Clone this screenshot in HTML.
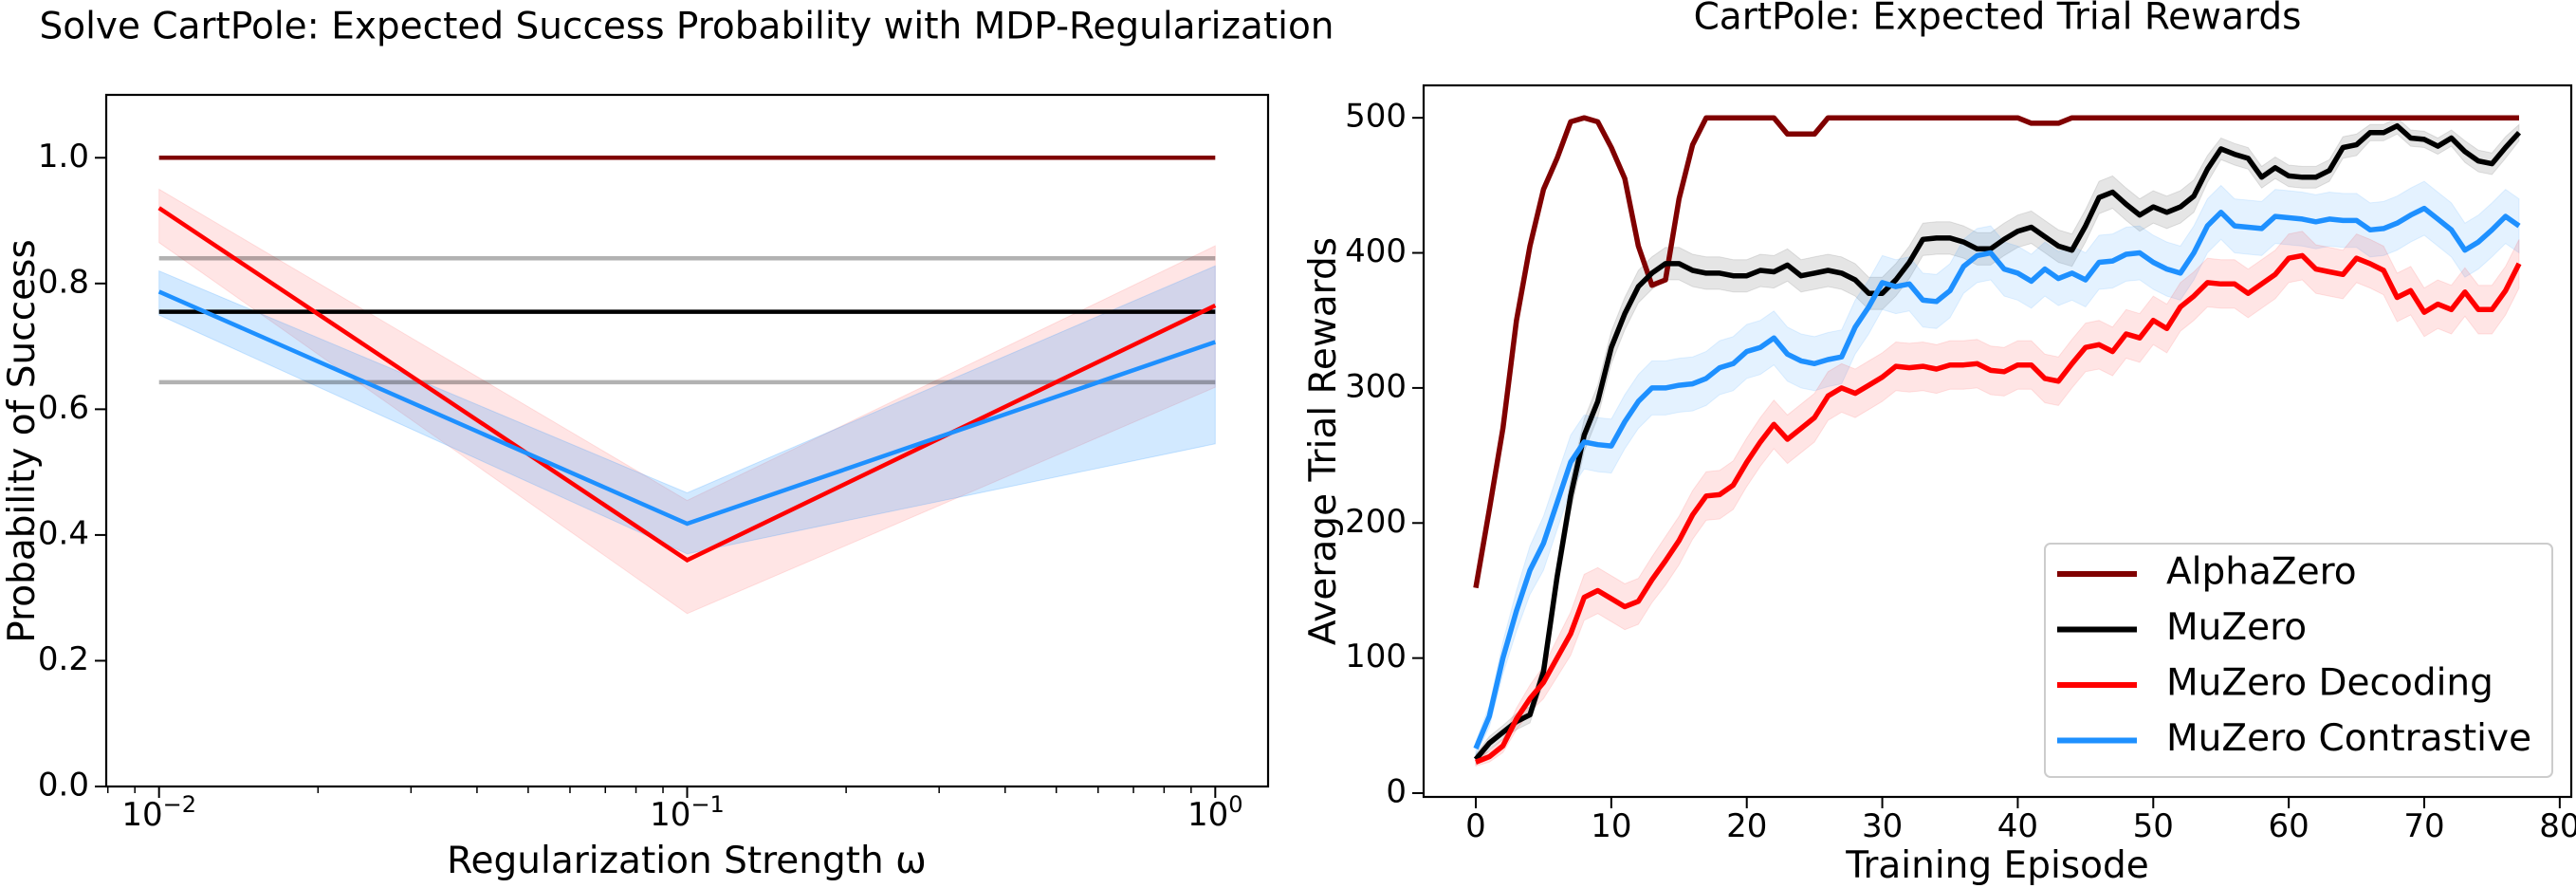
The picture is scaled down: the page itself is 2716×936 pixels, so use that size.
<!DOCTYPE html>
<html><head><meta charset="utf-8"><style>
body{margin:0;background:#fff}
svg{display:block;font-family:"DejaVu Sans","Liberation Sans",sans-serif}
</style></head><body>
<svg id="fig" width="2716" height="936" viewBox="0 0 2716 936" xmlns="http://www.w3.org/2000/svg">
<rect width="2716" height="936" fill="#fff"/>
<g id="left"></g>
<g id="right"></g>
</svg>
<script>
// ---- Left chart data ----
const lCats = [0.01, 0.1, 1];
const lAlpha = [1.0, 1.0, 1.0];
const lMuzero = [0.755, 0.755, 0.755];
const lMuzeroUpper = [0.84, 0.84, 0.84];
const lMuzeroLower = [0.643, 0.643, 0.643];
const lDecoding = [0.92, 0.36, 0.765];
const lDecodingUpper = [0.95, 0.455, 0.86];
const lDecodingLower = [0.865, 0.275, 0.635];
const lContrast = [0.787, 0.418, 0.707];
const lContrastUpper = [0.82, 0.467, 0.828];
const lContrastLower = [0.75, 0.37, 0.545];
const lYTicks = [0.0, 0.2, 0.4, 0.6, 0.8, 1.0];
const lXTickExps = [-2, -1, 0];

// ---- Right chart data ----
const rAlpha = [152,210,270,350,405,447,470,497,500,497,478,455,405,376,380,440,480,500,500,500,500,500,500,488,488,488,500,500,500,500,500,500,500,500,500,500,500,500,500,500,500,496,496,496,500,500,500,500,500,500,500,500,500,500,500,500,500,500,500,500,500,500,500,500,500,500,500,500,500,500,500,500,500,500,500,500,500,500];
const rMuzero = [25,37,45,53,58,90,160,220,265,290,330,355,375,385,392,392,387,385,385,383,383,387,386,391,383,385,387,385,380,370,370,380,393,410,411,411,408,403,403,410,416,419,412,405,402,420,441,445,436,428,434,430,434,442,462,477,473,470,456,463,457,456,456,461,478,480,489,489,494,485,484,479,485,475,468,466,478,489];
const rMuzeroErr = [4,5,5,6,6,8,10,12,12,12,12,12,12,12,12,12,12,12,12,12,12,12,12,12,12,12,12,12,12,12,12,12,12,12,12,12,12,12,12,12,12,12,12,12,12,12,12,12,12,12,12,12,12,12,10,8,8,8,8,8,8,8,8,8,8,8,6,6,6,6,6,6,6,8,8,8,8,6];
const rDecoding = [23,27,35,55,70,82,100,118,145,150,144,138,142,158,172,187,206,220,221,228,245,260,273,262,270,278,294,300,296,302,308,316,315,316,314,317,317,318,313,312,317,317,307,305,318,330,332,327,340,337,350,344,360,368,378,377,377,370,377,384,396,398,388,386,384,396,392,387,367,372,356,362,358,371,358,358,372,392];
const rDecodingErr = [3,4,5,8,10,12,14,16,17,17,17,17,17,17,18,18,18,18,18,18,18,18,18,18,18,18,18,18,18,18,18,18,18,18,18,18,18,18,18,18,18,18,18,18,18,18,18,18,18,18,18,18,18,18,18,18,18,18,18,18,18,18,18,18,18,18,18,18,18,18,18,18,18,18,18,18,18,18];
const rContrast = [33,57,100,135,165,185,215,245,260,258,257,275,290,300,300,302,303,307,315,318,327,330,337,325,320,318,321,323,345,360,378,375,377,365,364,372,390,398,400,388,385,379,388,381,385,380,393,394,399,400,393,388,385,400,420,430,420,419,418,427,426,425,423,425,424,424,417,418,422,428,433,425,417,402,408,417,427,420];
const rContrastErr = [5,8,12,15,18,20,20,20,20,20,20,20,20,20,20,20,20,20,20,20,20,20,20,20,20,20,20,20,20,20,20,20,20,20,20,20,20,20,20,20,20,20,20,20,20,20,20,20,20,20,20,20,20,20,20,20,20,20,20,20,20,20,20,20,20,20,20,20,20,20,20,20,20,20,20,20,20,20];
const rYTicks = [0,100,200,300,400,500];
const rXTicks = [0,10,20,30,40,50,60,70,80];
const legendLabels = ["AlphaZero","MuZero","MuZero Decoding","MuZero Contrastive"];
const legendColors = ["#800000","#000000","#ff0000","#1e90ff"];

const NS = "http://www.w3.org/2000/svg";
function mk(parent, tag, attrs, name, txt){
  const el = document.createElementNS(NS, tag);
  for (const k in attrs) el.setAttribute(k, attrs[k]);
  
  
  if (txt !== undefined) el.textContent = txt;
  parent.appendChild(el);
  return el;
}
function linePath(xs, ys, fx, fy){ return xs.map((x,i)=>(i?'L':'M')+fx(x).toFixed(1)+','+fy(ys[i]).toFixed(1)).join(''); }
function bandPath(xs, lo, hi, fx, fy){
  let d = xs.map((x,i)=>(i?'L':'M')+fx(x).toFixed(1)+','+fy(hi[i]).toFixed(1)).join('');
  for (let i=xs.length-1;i>=0;i--) d += 'L'+fx(xs[i]).toFixed(1)+','+fy(lo[i]).toFixed(1);
  return d+'Z';
}

// ---- Left chart ----
const L = document.getElementById('left');
const lx0=112, lx1=1337, ly0=100, ly1=829;
const lxMin=-2.1, lxMax=0.1, lyMin=0, lyMax=1.1;
const lfx = v => lx0 + (Math.log10(v)-lxMin)/(lxMax-lxMin)*(lx1-lx0);
const lfy = v => ly1 - (v-lyMin)/(lyMax-lyMin)*(ly1-ly0);
mk(L,'text',{x:724,y:30,'font-size':39,'text-anchor':'middle','dominant-baseline':'middle'},'left-title','Solve CartPole: Expected Success Probability with MDP-Regularization');
mk(L,'path',{d:bandPath(lCats,lDecodingLower,lDecodingUpper,lfx,lfy),fill:'rgba(255,0,0,0.1)',stroke:'rgba(255,0,0,0.1)'},'decoding-band');
mk(L,'path',{d:bandPath(lCats,lContrastLower,lContrastUpper,lfx,lfy),fill:'rgba(30,144,255,0.2)',stroke:'rgba(30,144,255,0.2)'},'contrastive-band');
mk(L,'path',{d:linePath(lCats,lMuzeroUpper,lfx,lfy),fill:'none',stroke:'#000','stroke-opacity':0.3,'stroke-width':4.5},'muzero-upper-line');
mk(L,'path',{d:linePath(lCats,lMuzeroLower,lfx,lfy),fill:'none',stroke:'#000','stroke-opacity':0.3,'stroke-width':4.5},'muzero-lower-line');
mk(L,'path',{d:linePath(lCats,lAlpha,lfx,lfy),fill:'none',stroke:'#800000','stroke-width':4.5},'alphazero-line');
mk(L,'path',{d:linePath(lCats,lMuzero,lfx,lfy),fill:'none',stroke:'#000','stroke-width':4.5},'muzero-line');
mk(L,'path',{d:linePath(lCats,lDecoding,lfx,lfy),fill:'none',stroke:'#ff0000','stroke-width':4.5},'decoding-line');
mk(L,'path',{d:linePath(lCats,lContrast,lfx,lfy),fill:'none',stroke:'#1e90ff','stroke-width':4.5},'contrastive-line');
mk(L,'rect',{x:lx0,y:ly0,width:lx1-lx0,height:ly1-ly0,fill:'none',stroke:'#000','stroke-width':2.2},'left-axes-frame');
lYTicks.forEach(t=>{
  const y=lfy(t);
  mk(L,'line',{x1:lx0-12,x2:lx0,y1:y,y2:y,stroke:'#000','stroke-width':2},'y-tick');
  mk(L,'text',{x:lx0-18,y:y,'font-size':34,'text-anchor':'end','dominant-baseline':'middle'},'y-tick-label',t.toFixed(1));
});
for (let e=-3;e<=0;e++) for (let m=2;m<=9;m++){
  const v=m*Math.pow(10,e); const lv=Math.log10(v);
  if (lv<lxMin||lv>lxMax) continue;
  const x=lfx(v);
  mk(L,'line',{x1:x,x2:x,y1:ly1,y2:ly1+7,stroke:'#000','stroke-width':1.5},'x-minor-tick');
}
lXTickExps.forEach(e=>{
  const x=lfx(Math.pow(10,e));
  mk(L,'line',{x1:x,x2:x,y1:ly1,y2:ly1+12,stroke:'#000','stroke-width':2},'x-tick');
  const t=mk(L,'text',{x:x,y:870,'font-size':34,'text-anchor':'middle'},'x-tick-label','10');
  const s=document.createElementNS(NS,'tspan'); s.setAttribute('dy','-14'); s.setAttribute('font-size','24'); s.textContent=(e<0?'\u2212':'')+Math.abs(e); t.appendChild(s);
});
mk(L,'text',{x:724,y:920,'font-size':39,'text-anchor':'middle'},'x-axis-title','Regularization Strength \u03c9');
mk(L,'text',{x:0,y:0,'font-size':39,'text-anchor':'middle',transform:'translate(36,465) rotate(-90)'},'y-axis-title','Probability of Success');

// ---- Right chart ----
const R = document.getElementById('right');
const rx0=1501, rx1=2711, ry0=90, ry1=840;
const rxMin=-3.85, rxMax=80.85, ryMin=-2.8, ryMax=524;
const rfx = v => rx0 + (v-rxMin)/(rxMax-rxMin)*(rx1-rx0);
const rfy = v => ry1 - (v-ryMin)/(ryMax-ryMin)*(ry1-ry0);
const eps = rAlpha.map((_,i)=>i);
mk(R,'text',{x:2106,y:20,'font-size':39,'text-anchor':'middle','dominant-baseline':'middle'},'right-title','CartPole: Expected Trial Rewards');
function band(vals, err, color, name){
  mk(R,'path',{d:bandPath(eps, vals.map((v,i)=>v-err[i]), vals.map((v,i)=>v+err[i]), rfx, rfy), fill:color, stroke:color},name);
}
band(rMuzero, rMuzeroErr, 'rgba(0,0,0,0.1)', 'muzero-band');
band(rContrast, rContrastErr, 'rgba(30,144,255,0.12)', 'contrastive-band');
band(rDecoding, rDecodingErr, 'rgba(255,0,0,0.1)', 'decoding-band');
[[rAlpha,'#800000','alphazero-curve'],[rMuzero,'#000','muzero-curve'],[rDecoding,'#ff0000','decoding-curve'],[rContrast,'#1e90ff','contrastive-curve']].forEach(s=>{
  mk(R,'path',{d:linePath(eps,s[0],rfx,rfy),fill:'none',stroke:s[1],'stroke-width':5.5,'stroke-linejoin':'round'},s[2]);
});
mk(R,'rect',{x:rx0,y:ry0,width:rx1-rx0,height:ry1-ry0,fill:'none',stroke:'#000','stroke-width':2.2},'right-axes-frame');
rYTicks.forEach(t=>{
  const y=rfy(t);
  mk(R,'line',{x1:rx0-12,x2:rx0,y1:y,y2:y,stroke:'#000','stroke-width':2},'y-tick');
  mk(R,'text',{x:rx0-18,y:y,'font-size':34,'text-anchor':'end','dominant-baseline':'middle'},'y-tick-label',String(t));
});
rXTicks.forEach(t=>{
  const x=rfx(t);
  mk(R,'line',{x1:x,x2:x,y1:ry1,y2:ry1+12,stroke:'#000','stroke-width':2},'x-tick');
  mk(R,'text',{x:x,y:882,'font-size':34,'text-anchor':'middle'},'x-tick-label',String(t));
});
mk(R,'text',{x:2106,y:925,'font-size':39,'text-anchor':'middle'},'x-axis-title','Training Episode');
mk(R,'text',{x:0,y:0,'font-size':39,'text-anchor':'middle',transform:'translate(1408,465) rotate(-90)'},'y-axis-title','Average Trial Rewards');
const lg = mk(R,'g',{},'legend');
mk(lg,'rect',{x:2156,y:573,width:535,height:246,rx:6,fill:'#fff','fill-opacity':0.8,stroke:'#ccc','stroke-width':2},'legend-box');
legendLabels.forEach((lab,i)=>{
  const y=605+i*58.5;
  mk(lg,'line',{x1:2169,x2:2253,y1:y,y2:y,stroke:legendColors[i],'stroke-width':6},'legend-swatch');
  mk(lg,'text',{x:2284,y:y,'font-size':39,'dominant-baseline':'middle'},'legend-entry',lab);
});
</script>
</body></html>
